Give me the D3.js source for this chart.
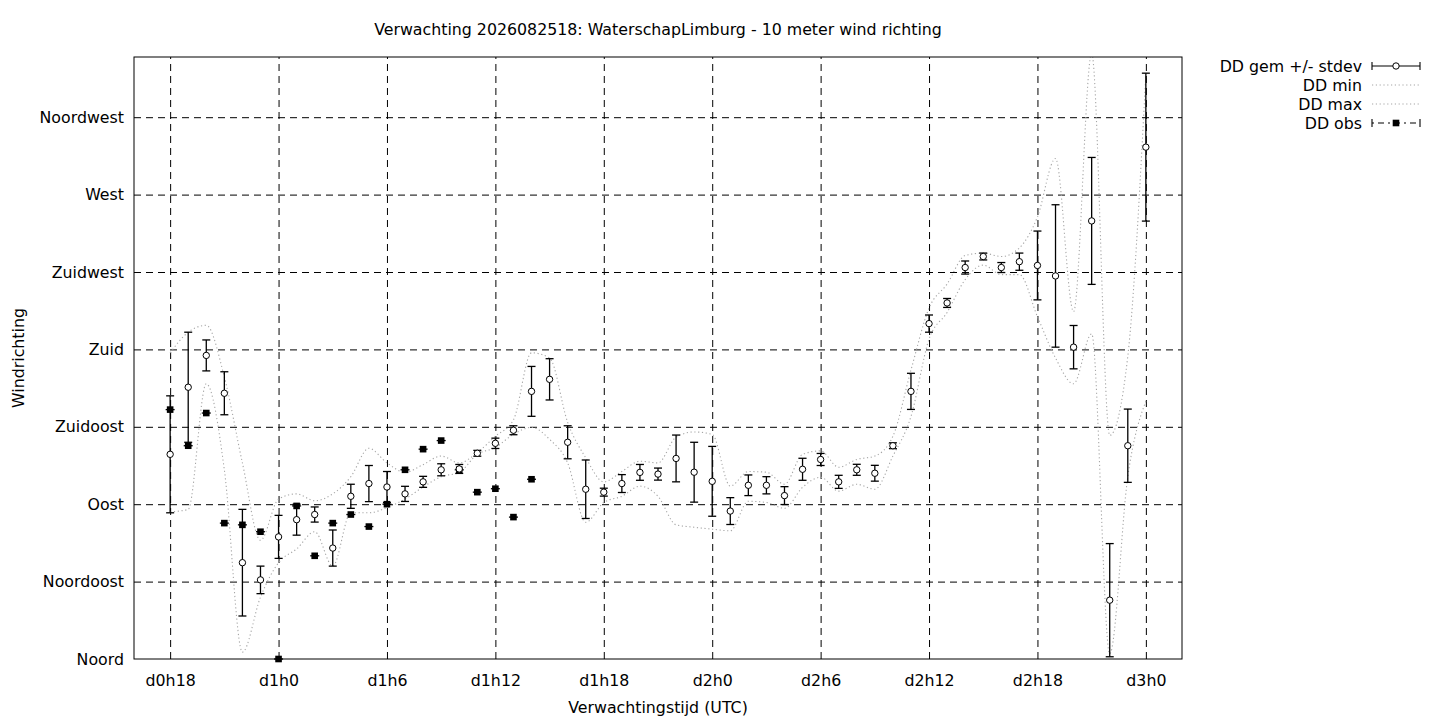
<!DOCTYPE html>
<html>
<head>
<meta charset="utf-8">
<script src="https://cdn.jsdelivr.net/npm/d3@7"></script>
<style>
body { margin: 0; background: #fff; }
svg text { font-family: "DejaVu Sans", sans-serif; font-size: 15.8px; fill: #000; }
.grid line { stroke: #000; stroke-width: 1; stroke-dasharray: 7,5; }
.grid path { display: none; }
.minmax { fill: none; stroke: #a6a6a6; stroke-width: 1.1; stroke-dasharray: 1.2,2.6; }
.bar { stroke: #000; stroke-width: 1.3; }
</style>
</head>
<body>
<div id="chart"></div>
<script>
// uren vanaf d0h0
const hours = [18, 19, 20, 21, 22, 23, 24, 25, 26, 27, 28, 29, 30, 31, 32, 33, 34, 35, 36, 37, 38, 39,
    40, 41, 42, 43, 44, 45, 46, 47, 48, 49, 50, 51, 52, 53, 54, 55, 56, 57, 58, 59, 60, 61, 62, 63,
    64, 65, 66, 67, 68, 69, 70, 71, 72];

const ddMean = [119, 158, 176.5, 154.5, 56, 46, 71, 81, 84, 64.5, 94.6, 102, 100, 96, 103, 110, 110.5,
    119.6, 125.4, 133, 155.6, 162.6, 126, 98.7, 97, 102, 108.5, 107.5, 116.6, 108.6, 103.3, 86, 101,
    101, 95, 110.3, 116, 103, 110, 108, 124, 155.6, 195, 207, 227.6, 234, 227.6, 231, 228.8, 222.7,
    181.3, 254.7, 34.2, 124, 297.6];

const ddStdev = [34, 32, 9, 12.5, 31, 8, 12.5, 9, 4.4, 10.5, 7, 10.5, 9, 4.4, 3.2, 3.5, 2.6, 1.7, 3,
    2.6, 14.5, 12, 9.6, 17, 2.3, 5.2, 4.6, 3.5, 13.6, 17.4, 20.3, 7.8, 6, 5, 5.2, 6.4, 3.5, 3.8, 3.2,
    4.6, 1.7, 10.5, 5, 2.6, 3.8, 2, 2.9, 5, 20, 41.4, 12.6, 36.9, 32.9, 21.3, 43];

const ddMin = [85.5, 87, 160, 110, 4, 36, 56, 64, 74, 54, 85, 85, 88, 93, 100, 106, 108.5, 119, 123,
    130.6, 134.7, 127.7, 114, 79.5, 91, 94.6, 100.5, 94.6, 78, 76.6, 75.5, 74.5, 91.7, 91, 87.6, 99.8,
    105.7, 97.6, 101.6, 98.7, 118, 141, 186, 201.5, 220.6, 229, 223.5, 223.5, 199, 175, 160, 189, 3,
    106, 150];

const ddMax = [178, 190, 194, 164, 114, 69, 93, 96, 92, 96, 106, 122.5, 114, 108.5, 113, 118, 114,
    120, 129.5, 139, 178, 175, 137.6, 117, 103, 109, 115, 114, 129, 132, 130.6, 100.5, 109, 108.6,
    101.6, 119, 121, 111.5, 116, 118, 129.5, 168, 204, 218, 234.6, 236, 234, 239, 257, 291, 202, 352,
    130, 176, 340];

// waarnemingen
const obsHours = [18, 19, 20, 21, 22, 23, 24, 25, 26, 27, 28, 29, 30, 31, 32, 33, 34, 35, 36, 37, 38];
const ddObs = [145, 124, 143, 79, 78, 74, 0, 89, 60, 79, 84, 77, 90, 110, 122, 127, 110, 97, 99, 82.5, 104.5];

const xTicks = [18, 24, 30, 36, 42, 48, 54, 60, 66, 72];
const xTickLabels = ["d0h18", "d1h0", "d1h6", "d1h12", "d1h18", "d2h0", "d2h6", "d2h12", "d2h18", "d3h0"];
const yTicks = [0, 45, 90, 135, 180, 225, 270, 315];
const yTickLabels = ["Noord", "Noordoost", "Oost", "Zuidoost", "Zuid", "Zuidwest", "West", "Noordwest"];

const legendLabels = ["DD gem +/- stdev", "DD min", "DD max", "DD obs"];

const W = 1440, H = 720;
const plot = { left: 134, right: 1182, top: 57, bottom: 659 };

const svg = d3.select("#chart").append("svg")
    .attr("width", W)
    .attr("height", H);

const x = d3.scaleLinear().domain([16, 74]).range([plot.left, plot.right]);
const y = d3.scaleLinear().domain([0, 350]).range([plot.bottom, plot.top]);

// grid
svg.append("g").attr("class", "grid")
    .attr("transform", `translate(0,${plot.bottom})`)
    .call(d3.axisBottom(x).tickValues(xTicks).tickSize(-(plot.bottom - plot.top)).tickFormat(""));
svg.append("g").attr("class", "grid")
    .attr("transform", `translate(${plot.left},0)`)
    .call(d3.axisLeft(y).tickValues(yTicks.filter(v => v > 0)).tickSize(-(plot.right - plot.left)).tickFormat(""));

// tick labels
const xAxis = svg.append("g")
    .attr("transform", `translate(0,${plot.bottom})`)
    .call(d3.axisBottom(x).tickValues(xTicks).tickSize(0).tickPadding(16)
        .tickFormat((d, i) => xTickLabels[i]));
xAxis.select(".domain").remove();
xAxis.selectAll("text").style("font-size", "15.8px").attr("font-family", null);

const yAxis = svg.append("g")
    .attr("transform", `translate(${plot.left},0)`)
    .call(d3.axisLeft(y).tickValues(yTicks).tickSize(0).tickPadding(10)
        .tickFormat((d, i) => yTickLabels[i]));
yAxis.select(".domain").remove();
yAxis.selectAll("text").style("font-size", "15.8px").attr("font-family", null);

// min / max (gladde lijnen)
const curve = d3.line()
    .x((d, i) => x(hours[i]))
    .y(d => y(d))
    .curve(d3.curveMonotoneX);

svg.append("clipPath").attr("id", "plotclip")
    .append("rect")
    .attr("x", plot.left).attr("y", plot.top)
    .attr("width", plot.right - plot.left).attr("height", plot.bottom - plot.top);

svg.append("path").attr("class", "minmax").attr("clip-path", "url(#plotclip)").attr("d", curve(ddMin));
svg.append("path").attr("class", "minmax").attr("clip-path", "url(#plotclip)").attr("d", curve(ddMax));

// waarnemingen: nul-lengte foutbalk + vierkantje
const obs = svg.append("g");
obs.selectAll(".obscap")
    .data(ddObs)
    .enter().append("line")
    .attr("class", "bar")
    .attr("x1", (d, i) => x(obsHours[i]) - 4.5)
    .attr("x2", (d, i) => x(obsHours[i]) + 4.5)
    .attr("y1", d => y(d))
    .attr("y2", d => y(d));
obs.selectAll(".obs")
    .data(ddObs)
    .enter().append("rect")
    .attr("x", (d, i) => x(obsHours[i]) - 3.3)
    .attr("y", d => y(d) - 3.3)
    .attr("width", 6.6)
    .attr("height", 6.6)
    .attr("fill", "#000");

// gemiddelde +/- stdev
const eb = svg.append("g");
const ebData = ddMean.map((m, i) => ({ h: hours[i], m, s: ddStdev[i] }));
eb.selectAll(".vbar").data(ebData).enter().append("line")
    .attr("class", "bar")
    .attr("x1", d => x(d.h)).attr("x2", d => x(d.h))
    .attr("y1", d => y(d.m + d.s)).attr("y2", d => y(d.m - d.s));
eb.selectAll(".capTop").data(ebData).enter().append("line")
    .attr("class", "bar")
    .attr("x1", d => x(d.h) - 4).attr("x2", d => x(d.h) + 4)
    .attr("y1", d => y(d.m + d.s)).attr("y2", d => y(d.m + d.s));
eb.selectAll(".capBot").data(ebData).enter().append("line")
    .attr("class", "bar")
    .attr("x1", d => x(d.h) - 4).attr("x2", d => x(d.h) + 4)
    .attr("y1", d => y(d.m - d.s)).attr("y2", d => y(d.m - d.s));
eb.selectAll("circle").data(ebData).enter().append("circle")
    .attr("cx", d => x(d.h))
    .attr("cy", d => y(d.m))
    .attr("r", 3.2)
    .attr("fill", "#fff")
    .attr("stroke", "#000")
    .attr("stroke-width", 1);

// kader
svg.append("rect")
    .attr("x", plot.left).attr("y", plot.top)
    .attr("width", plot.right - plot.left).attr("height", plot.bottom - plot.top)
    .attr("fill", "none").attr("stroke", "#000").attr("stroke-width", 1);

// titels
svg.append("text")
    .attr("x", (plot.left + plot.right) / 2).attr("y", 35)
    .attr("text-anchor", "middle")
    .text("Verwachting 2026082518: WaterschapLimburg - 10 meter wind richting");
svg.append("text")
    .attr("x", (plot.left + plot.right) / 2).attr("y", 713)
    .attr("text-anchor", "middle")
    .text("Verwachtingstijd (UTC)");
svg.append("text")
    .attr("transform", `translate(24,${(plot.top + plot.bottom) / 2}) rotate(-90)`)
    .attr("text-anchor", "middle")
    .text("Windrichting");

// legenda
const lg = svg.append("g");
const lx1 = 1372, lx2 = 1420, lmid = (lx1 + lx2) / 2;
legendLabels.forEach((lab, i) => {
    const ly = 66 + i * 19;
    lg.append("text").attr("x", 1362).attr("y", ly + 5.5).attr("text-anchor", "end").text(lab);
    if (i === 0 || i === 3) {
        lg.append("line").attr("class", "bar")
            .attr("x1", lx1).attr("x2", lx2).attr("y1", ly).attr("y2", ly)
            .attr("stroke-dasharray", i === 3 ? "2,4,6,4" : null)
            .style("stroke-width", 1.1);
        [lx1, lx2].forEach(xx => lg.append("line").attr("class", "bar")
            .attr("x1", xx).attr("x2", xx).attr("y1", ly - 4).attr("y2", ly + 4)
            .style("stroke-width", 1.1));
    }
    if (i === 0) {
        lg.append("circle").attr("cx", lmid).attr("cy", ly).attr("r", 3.2)
            .attr("fill", "#fff").attr("stroke", "#000");
    } else if (i === 3) {
        lg.append("rect").attr("x", lmid - 3.3).attr("y", ly - 3.3)
            .attr("width", 6.6).attr("height", 6.6).attr("fill", "#000");
    } else {
        lg.append("line").attr("class", "minmax")
            .attr("x1", lx1).attr("x2", lx2).attr("y1", ly).attr("y2", ly);
    }
});
</script>
</body>
</html>
